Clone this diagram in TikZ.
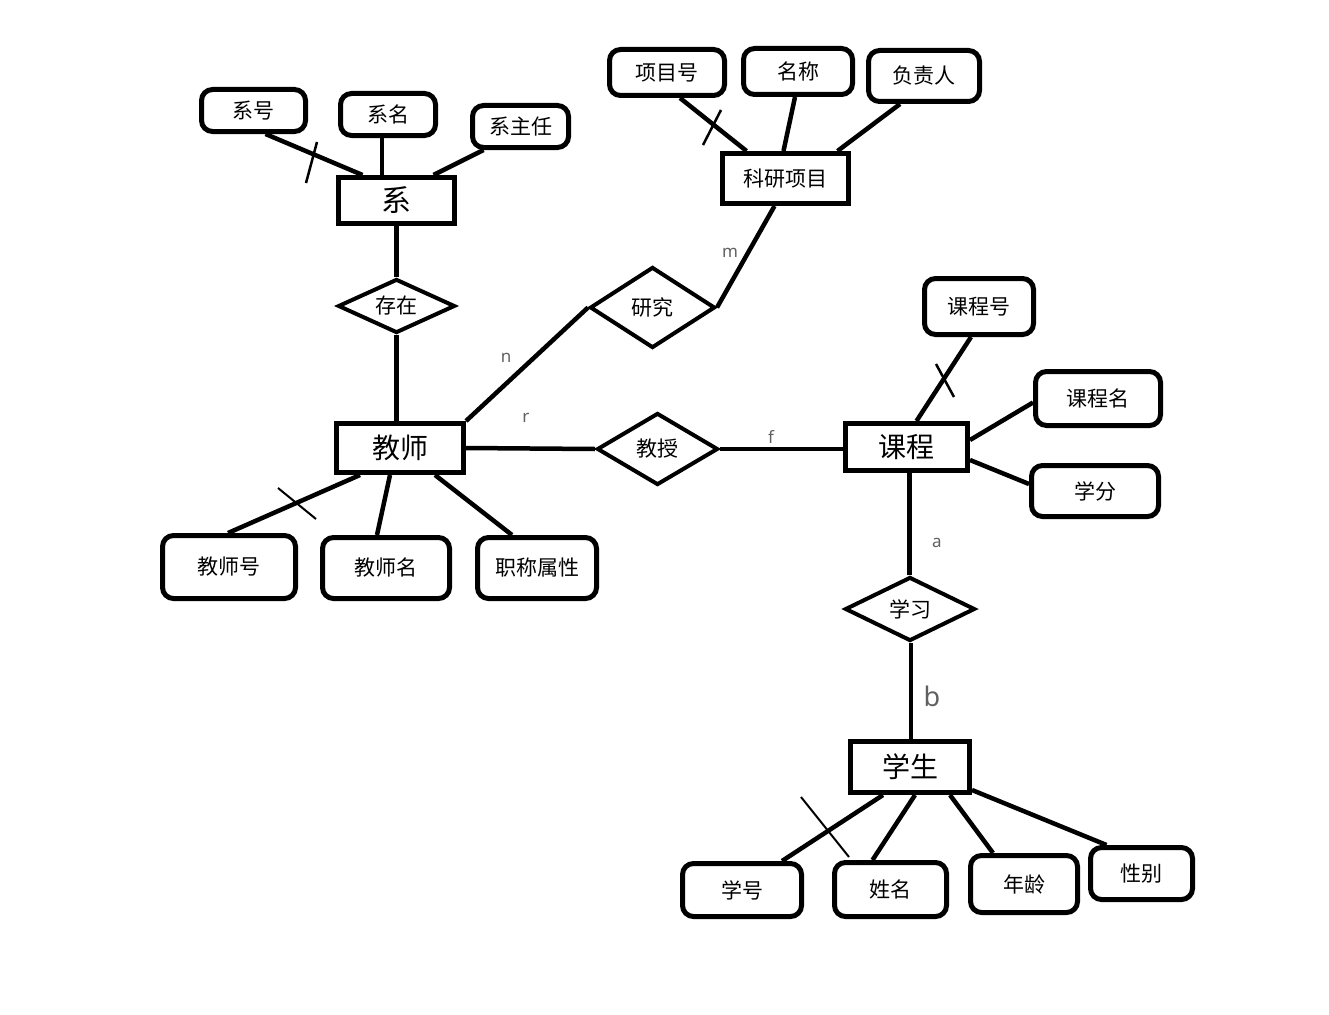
\documentclass[tikz,border=0pt]{standalone}
\usepackage{fontspec}
\newfontfamily\cjk{Noto Sans CJK SC}
\newfontfamily\latf{Noto Sans}
\usetikzlibrary{shapes.geometric}
\definecolor{lblgray}{HTML}{606060}
\tikzset{
  ent/.style={draw, line width=5pt, rectangle, inner sep=0pt, font=\cjk\fontsize{28pt}{31pt}\selectfont},
  attr/.style={draw, line width=5pt, rectangle, rounded corners=11pt, inner sep=0pt, font=\cjk\fontsize{21pt}{25pt}\selectfont},
  rel/.style={draw, line width=4pt, diamond, inner sep=0pt, label={[font=\cjk\fontsize{21pt}{25pt}\selectfont]center:#1}},
  conn/.style={line width=4.5pt},
  tick/.style={line width=2.5pt},
  card/.style={text=lblgray, font=\latf\fontsize{17pt}{20pt}\selectfont, inner sep=0pt}
}
\begin{document}
\begin{tikzpicture}[x=1pt,y=-1pt]
\useasboundingbox (0,0) rectangle (1329,1014);
% entities
\node[ent, minimum width=116pt, minimum height=46pt, font=\cjk\fontsize{30pt}{33pt}\selectfont] (xi) at (396.5,200.5) {系};
\node[ent, minimum width=126pt, minimum height=50pt, font=\cjk\fontsize{21pt}{25pt}\selectfont] (ky) at (785.5,178.5) {科研项目};
\node[ent, minimum width=127pt, minimum height=49pt] (js) at (400,448) {教师};
\node[ent, minimum width=122pt, minimum height=47pt] (kc) at (906.5,447) {课程};
\node[ent, minimum width=119pt, minimum height=51pt] (xs) at (910,767) {学生};
% attributes
\node[attr, minimum width=104pt, minimum height=42pt] (xh) at (253.5,110.5) {系号};
\node[attr, minimum width=95pt, minimum height=42pt] (xm) at (388,114.5) {系名};
\node[attr, minimum width=96pt, minimum height=42pt] (xzr) at (520.5,126.5) {系主任};
\node[attr, minimum width=115pt, minimum height=46pt] (xmh) at (667,72.5) {项目号};
\node[attr, minimum width=109pt, minimum height=46pt] (mc) at (798,71.5) {名称};
\node[attr, minimum width=111pt, minimum height=51pt] (fzr) at (924,76) {负责人};
\node[attr, minimum width=109pt, minimum height=56pt] (kch) at (979,306.5) {课程号};
\node[attr, minimum width=125pt, minimum height=54pt] (kcm) at (1098,398.5) {课程名};
\node[attr, minimum width=127pt, minimum height=51pt] (xf) at (1095,491) {学分};
\node[attr, minimum width=133pt, minimum height=63pt] (jsh) at (229,567) {教师号};
\node[attr, minimum width=127pt, minimum height=61pt] (jsm) at (386,568) {教师名};
\node[attr, minimum width=119pt, minimum height=61pt] (zc) at (537,568) {职称属性};
\node[attr, minimum width=119pt, minimum height=53pt] (xhs) at (742,890) {学号};
\node[attr, minimum width=112pt, minimum height=54pt] (xmn) at (890.5,889.5) {姓名};
\node[attr, minimum width=107pt, minimum height=57pt] (nl) at (1024,884) {年龄};
\node[attr, minimum width=102pt, minimum height=52pt] (xb) at (1141.5,873.5) {性别};
% relationships
\node[rel=存在, minimum width=117pt, minimum height=54pt] (cz) at (396.5,306) {};
\node[rel=研究, minimum width=125pt, minimum height=81pt] (yj) at (652.5,307.5) {};
\node[rel=教授, minimum width=121pt, minimum height=72pt] (jshou) at (657.5,449) {};
\node[rel=学习, minimum width=130pt, minimum height=64pt] (xx) at (910,609) {};
% connectors
\draw[conn] ([xshift=12pt]xh.south) -- ([xshift=-34pt]xi.north);
\draw[conn] ([xshift=-6pt]xm.south) -- ([xshift=-14.5pt]xi.north);
\draw[conn] ([xshift=-37pt]xzr.south) -- ([xshift=37pt]xi.north);
\draw[conn] (xi.south) -- (cz.north);
\draw[conn] (cz.south) -- ([xshift=-3.5pt]js.north);
\draw[conn] ([xshift=13pt]xmh.south) -- ([xshift=-39pt]ky.north);
\draw[conn] ([xshift=-3pt]mc.south) -- ([xshift=-2pt]ky.north);
\draw[conn] ([xshift=-24pt]fzr.south) -- ([xshift=52pt]ky.north);
\draw[conn] ([xshift=-11pt]ky.south) -- (yj.east);
\draw[conn] (yj.west) -- (js.north east);
\draw[conn] (js.east) -- (jshou.west);
\draw[conn] (jshou.east) -- ([yshift=-2pt]kc.west);
\draw[conn] ([xshift=-8pt]kch.south) -- ([xshift=10pt]kc.north);
\draw[conn] ([yshift=-4pt]kcm.west) -- ([yshift=7pt]kc.east);
\draw[conn] ([yshift=7pt]xf.west) -- ([yshift=-13pt]kc.east);
\draw[conn] ([xshift=3pt]kc.south) -- ([xshift=-0.5pt]xx.north);
\draw[conn] ([xshift=1pt]xx.south) -- ([xshift=1pt]xs.north);
\draw[conn] ([xshift=-27pt]xs.south) -- ([xshift=40pt]xhs.north);
\draw[conn] ([xshift=5pt]xs.south) -- ([xshift=-18pt]xmn.north);
\draw[conn] ([xshift=40pt]xs.south) -- ([xshift=-31pt]nl.north);
\draw[conn] ([yshift=-23pt]xs.east) -- ([xshift=-35pt]xb.north);
\draw[conn] ([xshift=-40pt]js.south) -- ([xshift=-1pt]jsh.north);
\draw[conn] ([xshift=-10pt]js.south) -- ([xshift=-9pt]jsm.north);
\draw[conn] ([xshift=35pt]js.south) -- ([xshift=-25pt]zc.north);
% key ticks
\coordinate (t1a) at (306,183); \coordinate (t1b) at (317,142);
\coordinate (t2a) at (703,145); \coordinate (t2b) at (721,110);
\coordinate (t3a) at (936,364); \coordinate (t3b) at (954,397);
\coordinate (t4a) at (278,488); \coordinate (t4b) at (316,519);
\coordinate (t5a) at (801,797); \coordinate (t5b) at (849,857);
\draw[tick] (t1a) -- (t1b);
\draw[tick] (t2a) -- (t2b);
\draw[tick] (t3a) -- (t3b);
\draw[tick, line width=2pt] (t4a) -- (t4b);
\draw[tick, line width=2pt] (t5a) -- (t5b);
% cardinalities
\node[card] (lm) at (730,253) {m};
\node[card] (ln) at (506,358) {n};
\node[card] (lr) at (526,418) {r};
\node[card] (lf) at (771,437) {f};
\node[card] (la) at (937,543) {a};
\node[card, font=\latf\fontsize{27pt}{30pt}\selectfont] (lb) at (932,696) {b};
\end{tikzpicture}
\end{document}
